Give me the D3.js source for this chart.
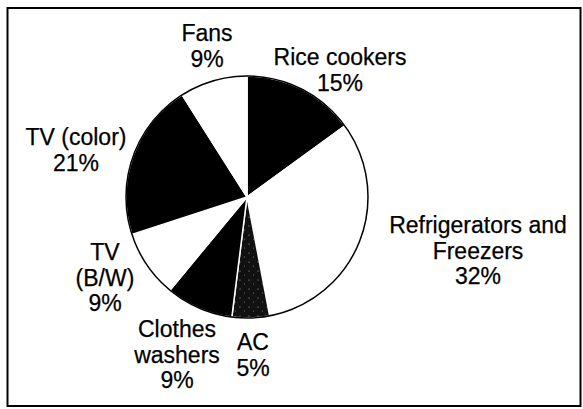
<!DOCTYPE html>
<html>
<head>
<meta charset="utf-8">
<script src="https://cdnjs.cloudflare.com/ajax/libs/d3/7.8.5/d3.min.js"></script>
<style>
  body { margin: 0; background: #fff; }
  svg { display: block; }
  text { font-family: "Liberation Sans", Arial, Helvetica, sans-serif; font-size: 23px; fill: #000; stroke: #000; stroke-width: 0.25px; }
</style>
</head>
<body>
<div id="chart"></div>
<script>
// appliance shares, clockwise from 12 o'clock
var categories = ["Rice cookers", "Refrigerators and Freezers", "AC", "Clothes washers", "TV (B/W)", "TV (color)", "Fans"];
var shares = [15, 32, 5, 9, 9, 21, 9];
var labelLines = [
  ["Rice cookers", "15%"],
  ["Refrigerators and", "Freezers", "32%"],
  ["AC", "5%"],
  ["Clothes", "washers", "9%"],
  ["TV", "(B/W)", "9%"],
  ["TV (color)", "21%"],
  ["Fans", "9%"]
];

var width = 583, height = 409;
var cx = 247, cy = 197, radius = 121;

// where each label block sits (x center, first baseline)
var labelPos = [
  [340, 65],
  [478, 233],
  [253, 350],
  [177, 337],
  [105, 260],
  [76, 145],
  [207, 41]
];
var lineGap = 25.5;

var fills = ["#000", "#fff", "url(#stipple)", "#000", "#fff", "#000", "#fff"];

var svg = d3.select("#chart").append("svg")
    .attr("width", width)
    .attr("height", height);

// stippled fill for the AC slice
var pat = svg.append("defs").append("pattern")
    .attr("id", "stipple")
    .attr("patternUnits", "userSpaceOnUse")
    .attr("width", 9)
    .attr("height", 9);
pat.append("rect").attr("width", 9).attr("height", 9).attr("fill", "#111");
pat.append("circle").attr("cx", 2).attr("cy", 2).attr("r", 0.6).attr("fill", "#aaa");
pat.append("circle").attr("cx", 6.5).attr("cy", 6).attr("r", 0.5).attr("fill", "#888");

// frame
svg.append("rect")
    .attr("x", 7.5)
    .attr("y", 8)
    .attr("width", 573)
    .attr("height", 398)
    .attr("fill", "none")
    .attr("stroke", "#000")
    .attr("stroke-width", 2);

var pie = d3.pie().sort(null).value(function(d){ return d; });
var arc = d3.arc().innerRadius(0).outerRadius(radius);

var g = svg.append("g").attr("transform", "translate(" + cx + "," + cy + ")");

g.selectAll("path.slice")
    .data(pie(shares))
    .enter().append("path")
    .attr("class", "slice")
    .attr("d", arc)
    .attr("fill", function(d, i){ return fills[i]; })
    .attr("stroke", "#fff")
    .attr("stroke-width", 1.5)
    .attr("stroke-linejoin", "round");

// outline of the pie
g.append("circle")
    .attr("r", radius)
    .attr("fill", "none")
    .attr("stroke", "#000")
    .attr("stroke-width", 1.5);

// labels
var lab = svg.selectAll("text.lab")
    .data(labelLines)
    .enter().append("text")
    .attr("class", "lab")
    .attr("text-anchor", "middle")
    .attr("x", function(d, i){ return labelPos[i][0]; })
    .attr("y", function(d, i){ return labelPos[i][1]; });

lab.selectAll("tspan")
    .data(function(d, i){ return d.map(function(t){ return {t: t, i: i}; }); })
    .enter().append("tspan")
    .attr("x", function(d){ return labelPos[d.i][0]; })
    .attr("dy", function(d, j){ return j == 0 ? 0 : lineGap; })
    .text(function(d){ return d.t; });
</script>
</body>
</html>
